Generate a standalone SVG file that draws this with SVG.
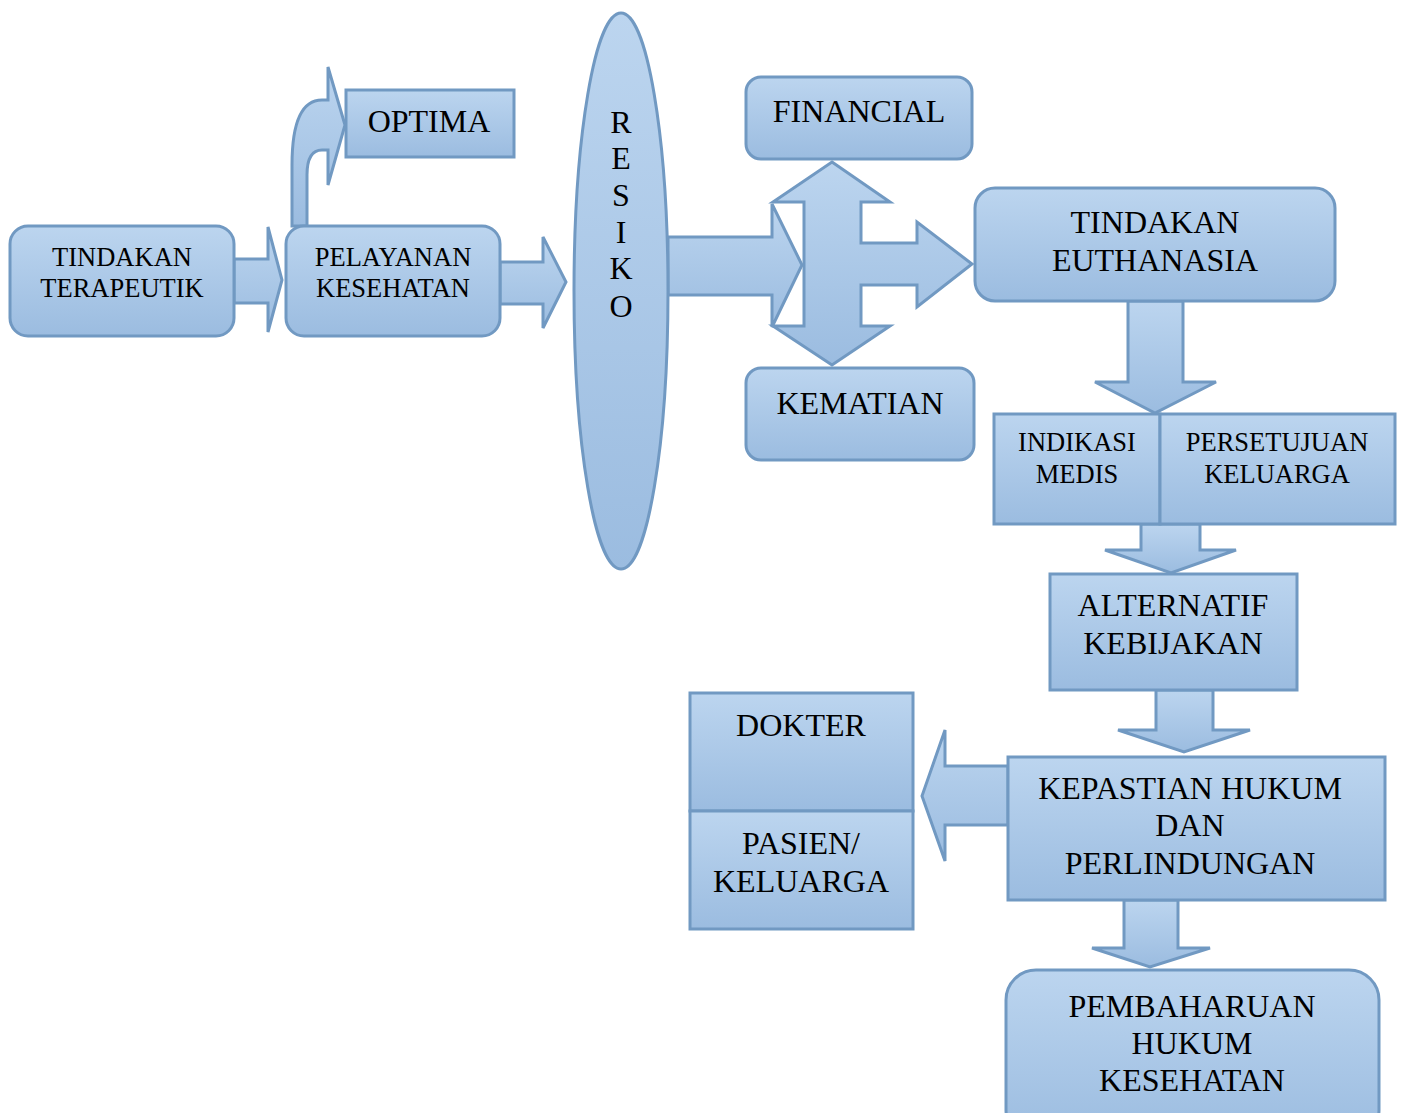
<svg xmlns="http://www.w3.org/2000/svg" width="1403" height="1113" viewBox="0 0 1403 1113">
<defs>
<linearGradient id="g" x1="0" y1="0" x2="0" y2="1">
<stop offset="0" stop-color="#bcd5ef"/>
<stop offset="1" stop-color="#9bbce0"/>
</linearGradient>
<style>
.s{fill:url(#g);stroke:#7199c2;stroke-width:3;stroke-linejoin:miter}
.t{font-family:"Liberation Serif","Times New Roman",serif;fill:#000;text-anchor:middle}
.a{font-size:26.5px}
.b{font-size:32px}
</style>
</defs>
<rect width="1403" height="1113" fill="#fff"/>
<g id="connectors">
<path class="s" d="M234,259 L268,259 L268,227 L282,280 L268,332 L268,303 L234,303 Z"/>
<path class="s" d="M500,262 L543,262 L543,237 L566,282 L543,328 L543,304 L500,304 Z"/>
<path class="s" d="M292,226 L292,165 Q292,100 322,100 L328,100 L328,67 L345,125 L328,185 L328,150 L322,150 Q307,150 307,175 L307,226 Z"/>
<path class="s" d="M668,237 L772,237 L772,204 L802,265 L772,327 L772,295 L668,295 Z"/>
<path class="s" d="M832,162 L890,202 L861,202 L861,243 L917,243 L917,222 L972,264 L917,307 L917,285 L861,285 L861,326 L890,326 L832,365 L773,326 L804,326 L804,202 L773,202 Z"/>
<path class="s" d="M1128,301 L1183,301 L1183,382 L1216,382 L1155,413 L1095,382 L1128,382 Z"/>
<path class="s" d="M1141,524 L1200,524 L1200,550 L1236,550 L1171,573 L1105,550 L1141,550 Z"/>
<path class="s" d="M1156,690 L1213,690 L1213,730 L1250,730 L1184,752 L1118,730 L1156,730 Z"/>
<path class="s" d="M1008,766 L945,766 L945,730 L922,796 L945,861 L945,825 L1008,825 Z"/>
<path class="s" d="M1124,900 L1178,900 L1178,948 L1210,948 L1150,967 L1092,948 L1124,948 Z"/>
</g>
<g id="tindakan-terapeutik">
<rect class="s" x="10" y="226" width="224" height="110" rx="18"/>
<text class="t a" x="122" y="266">TINDAKAN</text>
<text class="t a" x="122" y="297">TERAPEUTIK</text>
</g>
<g id="pelayanan-kesehatan">
<rect class="s" x="286" y="226" width="214" height="110" rx="18"/>
<text class="t a" x="393" y="266">PELAYANAN</text>
<text class="t a" x="393" y="297">KESEHATAN</text>
</g>
<g id="optima">
<rect class="s" x="346" y="90" width="168" height="67"/>
<text class="t b" x="429" y="132">OPTIMA</text>
</g>
<g id="resiko">
<ellipse class="s" cx="621" cy="291" rx="47" ry="278"/>
<text class="t b" x="621" y="133">R</text>
<text class="t b" x="621" y="169">E</text>
<text class="t b" x="621" y="206">S</text>
<text class="t b" x="621" y="243">I</text>
<text class="t b" x="621" y="279">K</text>
<text class="t b" x="621" y="317">O</text>
</g>
<g id="financial">
<rect class="s" x="746" y="77" width="226" height="82" rx="15"/>
<text class="t b" x="859" y="122">FINANCIAL</text>
</g>
<g id="kematian">
<rect class="s" x="746" y="368" width="228" height="92" rx="15"/>
<text class="t b" x="860" y="414">KEMATIAN</text>
</g>
<g id="tindakan-euthanasia">
<rect class="s" x="975" y="188" width="360" height="113" rx="20"/>
<text class="t b" x="1155" y="233">TINDAKAN</text>
<text class="t b" x="1155" y="271">EUTHANASIA</text>
</g>
<g id="indikasi-medis">
<rect class="s" x="994" y="414" width="166" height="110"/>
<text class="t a" x="1077" y="451">INDIKASI</text>
<text class="t a" x="1077" y="483">MEDIS</text>
</g>
<g id="persetujuan-keluarga">
<rect class="s" x="1160" y="414" width="235" height="110"/>
<text class="t a" x="1277" y="451">PERSETUJUAN</text>
<text class="t a" x="1277" y="483">KELUARGA</text>
</g>
<g id="alternatif-kebijakan">
<rect class="s" x="1050" y="574" width="247" height="116"/>
<text class="t b" x="1173" y="616">ALTERNATIF</text>
<text class="t b" x="1173" y="654">KEBIJAKAN</text>
</g>
<g id="kepastian-hukum">
<rect class="s" x="1008" y="757" width="377" height="143"/>
<text class="t b" x="1190" y="799">KEPASTIAN HUKUM</text>
<text class="t b" x="1190" y="836">DAN</text>
<text class="t b" x="1190" y="874">PERLINDUNGAN</text>
</g>
<g id="dokter">
<rect class="s" x="690" y="693" width="223" height="118"/>
<text class="t b" x="801" y="736">DOKTER</text>
</g>
<g id="pasien-keluarga">
<rect class="s" x="690" y="811" width="223" height="118"/>
<text class="t b" x="801" y="854">PASIEN/</text>
<text class="t b" x="801" y="892">KELUARGA</text>
</g>
<g id="pembaharuan-hukum">
<rect class="s" x="1006" y="970" width="373" height="170" rx="30"/>
<text class="t b" x="1192" y="1017">PEMBAHARUAN</text>
<text class="t b" x="1192" y="1054">HUKUM</text>
<text class="t b" x="1192" y="1091">KESEHATAN</text>
</g>
</svg>
